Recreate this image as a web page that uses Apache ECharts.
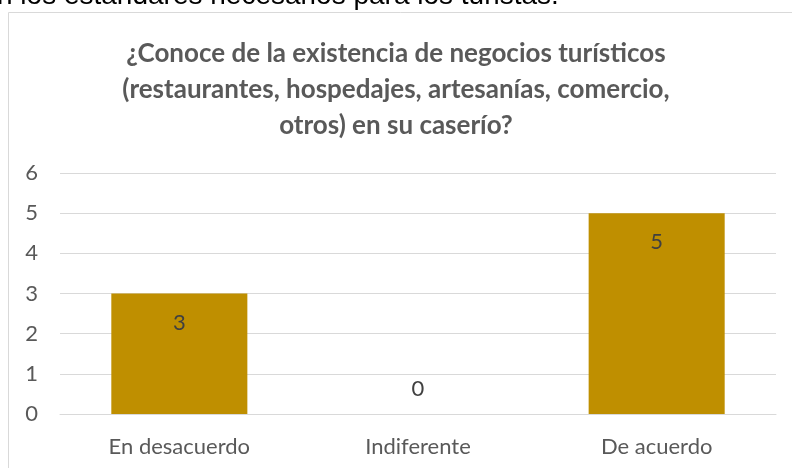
<!DOCTYPE html>
<html>
<head>
<meta charset="utf-8">
<script src="https://cdn.jsdelivr.net/npm/echarts@6/dist/echarts.min.js"></script>
<style>
  html, body { margin: 0; padding: 0; background: #fff; }
  #chart { width: 792px; height: 468px; }
</style>
</head>
<body>
<div id="chart"></div>
<script>
const categories = ["En desacuerdo", "Indiferente", "De acuerdo"];
const values = [3, 0, 5];
const yTicks = { min: 0, max: 6, interval: 1 };

const chart = echarts.init(document.getElementById("chart"));

// zero-height bar gets its label above the axis, like the original
const barData = values.map((v) =>
  v === 0 ? { value: v, label: { position: "top", distance: 14 } } : v
);

chart.setOption({
  animation: false,
  textStyle: { fontFamily: "Lato" },
  graphic: [
    {
      type: "text",
      left: -3,
      top: -18,
      style: {
        text: "n los estándares necesarios para los turistas.",
        font: "28px 'Liberation Sans'",
        fill: "#000",
      },
    },
    {
      type: "rect",
      shape: { x: 8.5, y: 12.5, width: 820, height: 500 },
      style: { fill: "none", stroke: "#d9d9d9", lineWidth: 1 },
      z: -1,
    },
  ],
  title: {
    text: "¿Conoce de la existencia de negocios turísticos\n(restaurantes, hospedajes, artesanías, comercio,\notros) en su caserío?",
    left: "center",
    top: 31,
    textStyle: {
      fontFamily: "Lato",
      fontWeight: "bold",
      fontSize: 26,
      lineHeight: 36,
      color: "#595959",
      align: "center",
    },
  },
  grid: { left: 60, right: 16, top: 173, bottom: 54 },
  xAxis: {
    type: "category",
    data: categories,
    axisLine: { lineStyle: { color: "#d9d9d9" } },
    axisTick: { show: false },
    axisLabel: { color: "#595959", fontSize: 22, margin: 22 },
  },
  yAxis: {
    type: "value",
    min: yTicks.min,
    max: yTicks.max,
    interval: yTicks.interval,
    axisLine: { show: false },
    axisTick: { show: false },
    axisLabel: { color: "#595959", fontSize: 22, margin: 22 },
    splitLine: { lineStyle: { color: "#d9d9d9", width: 1 } },
  },
  series: [
    {
      type: "bar",
      data: barData,
      barCategoryGap: "43%",
      itemStyle: { color: "#BF8F00" },
      label: {
        show: true,
        position: "insideTop",
        distance: 18,
        color: "#404040",
        fontSize: 22,
      },
    },
  ],
});
</script>
</body>
</html>
